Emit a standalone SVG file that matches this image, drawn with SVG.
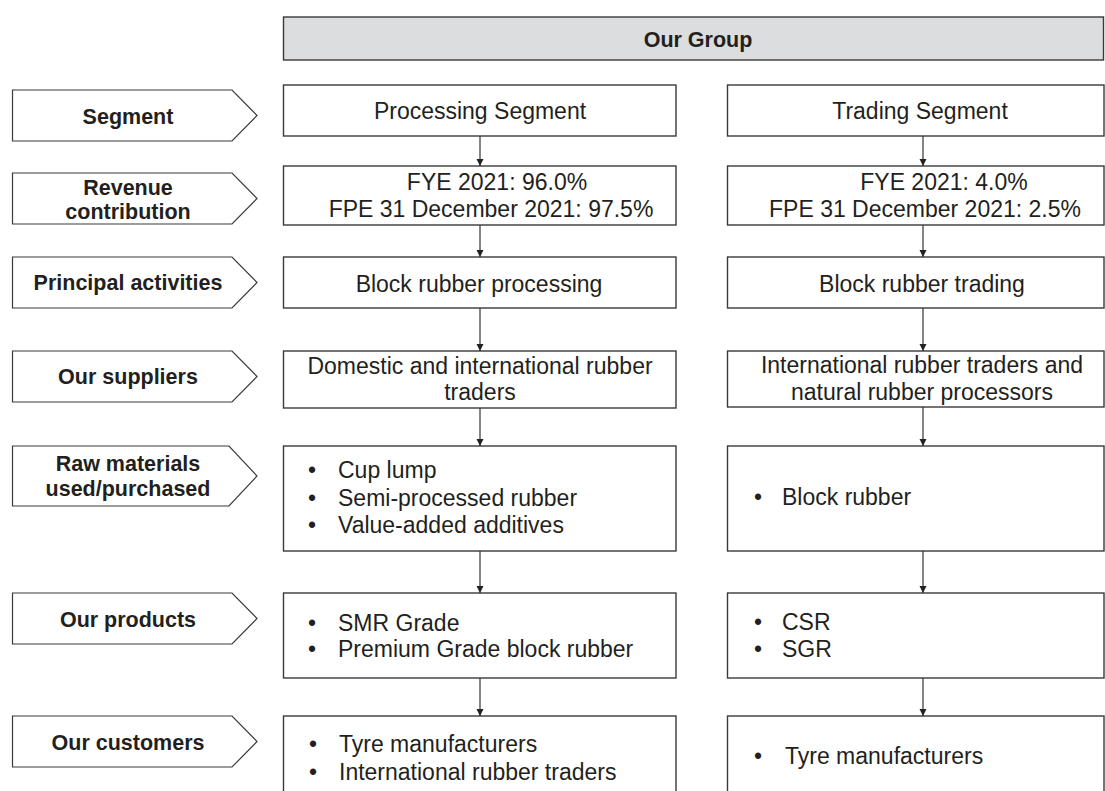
<svg xmlns="http://www.w3.org/2000/svg" width="1105" height="791" viewBox="0 0 1105 791">
<style>
.box{fill:#fff;stroke:#3a3a3a;stroke-width:1.4}
.grp{fill:#dcdddf;stroke:#3a3a3a;stroke-width:1.4}
.lbl{fill:#fff;stroke:#3a3a3a;stroke-width:1.2}
.b{font-family:"Liberation Sans",Arial,sans-serif;font-weight:bold;font-size:21.5px;fill:#231f20;text-anchor:middle}
.t{font-family:"Liberation Sans",Arial,sans-serif;font-size:23px;fill:#231f20}
.c{text-anchor:middle}
.con{stroke:#333;stroke-width:1.2;fill:none}
</style>
<defs>
<marker id="ah" markerWidth="8" markerHeight="8" refX="7" refY="4" orient="auto" markerUnits="userSpaceOnUse">
<path d="M0,0.5 L7,4 L0,7.5 Z" fill="#222"/>
</marker>
</defs>
<rect width="1105" height="791" fill="#fff"/>

<g id="our-group">
<rect class="grp" x="283.5" y="17" width="820" height="43"/>
<text class="b" x="698" y="47" font-size="22">Our Group</text>
</g>

<g id="label-segment">
<polygon class="lbl" points="12.5,90 232,90 257,115.5 232,141 12.5,141"/>
<text class="b" x="128" y="124">Segment</text>
</g>
<g id="label-revenue">
<polygon class="lbl" points="12.5,173 232,173 257,198.5 232,224 12.5,224"/>
<text class="b" x="128" y="195">Revenue</text>
<text class="b" x="128" y="219">contribution</text>
</g>
<g id="label-principal">
<polygon class="lbl" points="12.5,257 232,257 257,282.5 232,308 12.5,308"/>
<text class="b" x="128" y="290">Principal activities</text>
</g>
<g id="label-suppliers">
<polygon class="lbl" points="12.5,351 232,351 257,376.5 232,402 12.5,402"/>
<text class="b" x="128" y="384">Our suppliers</text>
</g>
<g id="label-raw">
<polygon class="lbl" points="12.5,446 229,446 257,476 229,506 12.5,506"/>
<text class="b" x="128" y="471">Raw materials</text>
<text class="b" x="128" y="496">used/purchased</text>
</g>
<g id="label-products">
<polygon class="lbl" points="12.5,593 232,593 257,618.5 232,644 12.5,644"/>
<text class="b" x="128" y="627">Our products</text>
</g>
<g id="label-customers">
<polygon class="lbl" points="12.5,716 232,716 257,741.5 232,767 12.5,767"/>
<text class="b" x="128" y="750">Our customers</text>
</g>

<g id="p-segment">
<rect class="box" x="283.5" y="85" width="392.5" height="51"/>
<text class="t c" x="480" y="119">Processing Segment</text>
</g>
<g id="p-revenue">
<rect class="box" x="283.5" y="166" width="392.5" height="59"/>
<text class="t c" x="497" y="190">FYE 2021: 96.0%</text>
<text class="t c" x="491" y="217">FPE 31 December 2021: 97.5%</text>
</g>
<g id="p-principal">
<rect class="box" x="283.5" y="257" width="392.5" height="51"/>
<text class="t c" x="479" y="292">Block rubber processing</text>
</g>
<g id="p-suppliers">
<rect class="box" x="283.5" y="351" width="392.5" height="57"/>
<text class="t c" x="480" y="374">Domestic and international rubber</text>
<text class="t c" x="480" y="400">traders</text>
</g>
<g id="p-raw">
<rect class="box" x="283.5" y="446" width="392.5" height="105"/>
<text class="t c" x="312" y="478">•</text><text class="t" x="338" y="478">Cup lump</text>
<text class="t c" x="312" y="506">•</text><text class="t" x="338" y="506">Semi-processed rubber</text>
<text class="t c" x="312" y="533">•</text><text class="t" x="338" y="533">Value-added additives</text>
</g>
<g id="p-products">
<rect class="box" x="283.5" y="593" width="392.5" height="85"/>
<text class="t c" x="312" y="631">•</text><text class="t" x="338" y="631">SMR Grade</text>
<text class="t c" x="312" y="657">•</text><text class="t" x="338" y="657">Premium Grade block rubber</text>
</g>
<g id="p-customers">
<rect class="box" x="283.5" y="716" width="392.5" height="90"/>
<text class="t c" x="313" y="752">•</text><text class="t" x="339" y="752">Tyre manufacturers</text>
<text class="t c" x="313" y="780">•</text><text class="t" x="339" y="780">International rubber traders</text>
</g>

<g id="t-segment">
<rect class="box" x="727.5" y="85" width="376.5" height="51"/>
<text class="t c" x="920" y="119">Trading Segment</text>
</g>
<g id="t-revenue">
<rect class="box" x="727.5" y="166" width="376.5" height="59"/>
<text class="t c" x="944" y="190">FYE 2021: 4.0%</text>
<text class="t c" x="925" y="217">FPE 31 December 2021: 2.5%</text>
</g>
<g id="t-principal">
<rect class="box" x="727.5" y="257" width="376.5" height="51"/>
<text class="t c" x="922" y="292">Block rubber trading</text>
</g>
<g id="t-suppliers">
<rect class="box" x="727.5" y="351" width="376.5" height="56"/>
<text class="t c" x="922" y="373">International rubber traders and</text>
<text class="t c" x="922" y="400">natural rubber processors</text>
</g>
<g id="t-raw">
<rect class="box" x="727.5" y="446" width="376.5" height="105"/>
<text class="t c" x="758" y="505">•</text><text class="t" x="782" y="505">Block rubber</text>
</g>
<g id="t-products">
<rect class="box" x="727.5" y="593" width="376.5" height="85"/>
<text class="t c" x="758" y="630">•</text><text class="t" x="782" y="630">CSR</text>
<text class="t c" x="758" y="657">•</text><text class="t" x="782" y="657">SGR</text>
</g>
<g id="t-customers">
<rect class="box" x="727.5" y="716" width="376.5" height="90"/>
<text class="t c" x="758" y="764">•</text><text class="t" x="785" y="764">Tyre manufacturers</text>
</g>

<g id="connectors">
<line class="con" x1="480" y1="136" x2="480" y2="166" marker-end="url(#ah)"/>
<line class="con" x1="480" y1="225" x2="480" y2="257" marker-end="url(#ah)"/>
<line class="con" x1="480" y1="308" x2="480" y2="351" marker-end="url(#ah)"/>
<line class="con" x1="480" y1="408" x2="480" y2="446" marker-end="url(#ah)"/>
<line class="con" x1="480" y1="551" x2="480" y2="593" marker-end="url(#ah)"/>
<line class="con" x1="480" y1="678" x2="480" y2="716" marker-end="url(#ah)"/>
<line class="con" x1="923" y1="136" x2="923" y2="166" marker-end="url(#ah)"/>
<line class="con" x1="923" y1="225" x2="923" y2="257" marker-end="url(#ah)"/>
<line class="con" x1="923" y1="308" x2="923" y2="351" marker-end="url(#ah)"/>
<line class="con" x1="923" y1="407" x2="923" y2="446" marker-end="url(#ah)"/>
<line class="con" x1="923" y1="551" x2="923" y2="593" marker-end="url(#ah)"/>
<line class="con" x1="923" y1="678" x2="923" y2="716" marker-end="url(#ah)"/>
</g>
</svg>
